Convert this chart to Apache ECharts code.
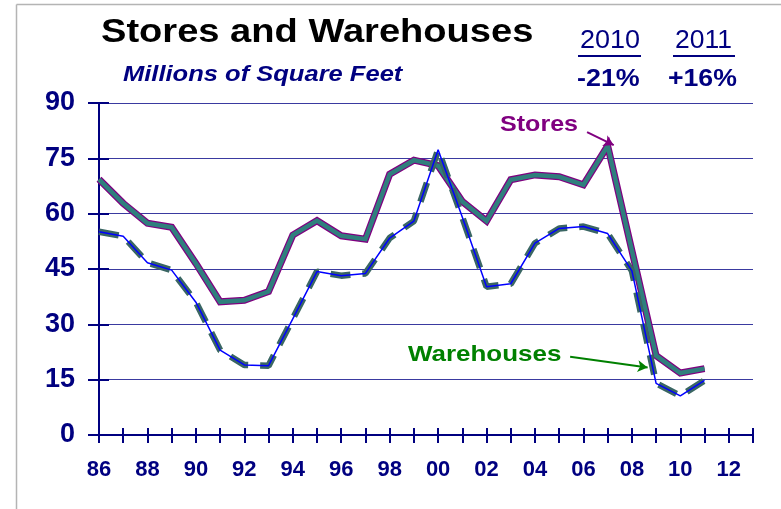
<!DOCTYPE html>
<html>
<head>
<meta charset="utf-8">
<script src="https://cdn.jsdelivr.net/npm/echarts@6/dist/echarts.min.js"></script>
<style>
html,body{margin:0;padding:0;background:#fff;}
#chart{width:781px;height:509px;}
</style>
</head>
<body>
<div id="chart"></div>
<script>
// ---- data ----
const years = [1986,1987,1988,1989,1990,1991,1992,1993,1994,1995,1996,1997,1998,1999,2000,2001,2002,2003,2004,2005,2006,2007,2008,2009,2010,2011];
const stores = [69.3,62.8,57.4,56.3,46.5,36.1,36.5,38.9,54.2,58.1,54.0,53.1,70.7,74.5,73.0,63.3,58.0,69.2,70.5,70.0,67.8,78.4,50.0,21.5,16.8,18.0];
const warehouses = [55.1,53.9,46.7,44.7,36.0,23.0,19.0,18.8,31.5,44.3,43.2,43.8,53.4,58.0,77.3,59.0,40.2,41.0,52.0,56.0,56.5,54.6,44.5,14.0,10.6,14.8];
const yTicks = [0,15,30,45,60,75,90];
const xLabelYears = [1986,1988,1990,1992,1994,1996,1998,2000,2002,2004,2006,2008,2010,2012];
const changeYears = ['2010','2011'];
const changeValues = ['-21%','+16%'];

const NAVY = '#000080';
const FONT = '"Liberation Sans", Arial, sans-serif';
const pair = (xs, ys) => xs.map((x, i) => [x, ys[i]]);

const chart = echarts.init(document.getElementById('chart'), null, {renderer: 'canvas'});

const xBase = {
  type: 'value', min: 1986, max: 2013, interval: 1, gridIndex: 0, position: 'bottom',
  splitLine: {show: false}
};
const yBase = {
  type: 'value', min: yTicks[0], max: yTicks[yTicks.length - 1], interval: 15, gridIndex: 0, position: 'left'
};

chart.setOption({
  animation: false,
  backgroundColor: '#fff',
  grid: {left: 99, right: 28, top: 103, bottom: 74, containLabel: false},
  xAxis: [
    Object.assign({}, xBase, {
      axisLine: {show: true, onZero: false, lineStyle: {color: NAVY, width: 2}},
      axisTick: {show: true, inside: false, length: 8, lineStyle: {color: NAVY, width: 2}},
      axisLabel: {
        show: true, margin: 24, color: NAVY, fontFamily: FONT, fontWeight: 'bold', fontSize: 22,
        formatter: v => xLabelYears.indexOf(v) >= 0 ? String(v).slice(2) : ''
      }
    }),
    Object.assign({}, xBase, {
      axisLine: {show: false},
      axisTick: {show: true, inside: true, length: 7, lineStyle: {color: NAVY, width: 2}},
      axisLabel: {show: false}
    })
  ],
  yAxis: [
    Object.assign({}, yBase, {
      axisLine: {show: true, onZero: false, lineStyle: {color: NAVY, width: 2}},
      axisTick: {show: true, inside: false, length: 11, lineStyle: {color: NAVY, width: 2}},
      axisLabel: {show: true, margin: 24, color: NAVY, fontFamily: FONT, fontWeight: 'bold', fontSize: 27},
      splitLine: {show: true, lineStyle: {color: '#3a3aa0', width: 1}}
    }),
    Object.assign({}, yBase, {
      axisLine: {show: false},
      axisTick: {show: true, inside: true, length: 10, lineStyle: {color: NAVY, width: 2}},
      axisLabel: {show: false},
      splitLine: {show: false}
    })
  ],
  series: [
    {
      name: 'Stores outline', type: 'line', xAxisIndex: 0, yAxisIndex: 0,
      data: pair(years, stores), symbol: 'none', z: 3,
      lineStyle: {color: '#800080', width: 7, join: 'miter'},
      markLine: {
        silent: true, symbol: ['none', 'arrow'], symbolSize: [9, 10],
        label: {show: false},
        lineStyle: {color: '#800080', width: 2, type: 'solid'},
        data: [[{coord: [2006.15, 82.1]}, {coord: [2007.25, 78.6]}]]
      }
    },
    {
      name: 'Stores', type: 'line', xAxisIndex: 0, yAxisIndex: 0,
      data: pair(years, stores), symbol: 'none', z: 4,
      lineStyle: {color: '#2f7f7d', width: 4.5, join: 'miter'}
    },
    {
      name: 'Warehouses shade', type: 'line', xAxisIndex: 0, yAxisIndex: 0,
      data: pair(years, warehouses), symbol: 'none', z: 5,
      lineStyle: {color: '#3a6663', width: 6.5, type: [20, 12]},
      markLine: {
        silent: true, symbol: ['none', 'arrow'], symbolSize: [9, 10],
        label: {show: false},
        lineStyle: {color: '#008000', width: 2, type: 'solid'},
        data: [[{coord: [2005.45, 21.2]}, {coord: [2008.65, 18.3]}]]
      }
    },
    {
      name: 'Warehouses', type: 'line', xAxisIndex: 0, yAxisIndex: 0,
      data: pair(years, warehouses), symbol: 'none', z: 6,
      lineStyle: {color: '#0000ff', width: 1.5}
    }
  ],
  graphic: [
    {type: 'line', shape: {x1: 16.5, y1: 4.5, x2: 16.5, y2: 509}, style: {stroke: '#b4b4b4', lineWidth: 1.5}},
    {type: 'line', shape: {x1: 16.5, y1: 4.5, x2: 781, y2: 4.5}, style: {stroke: '#b4b4b4', lineWidth: 1.5}},
    {type: 'text', x: 101, y: 33, scaleX: 1.12,
      style: {text: 'Stores and Warehouses', fill: '#000', font: 'bold 34px ' + FONT, textAlign: 'left', textVerticalAlign: 'middle'}},
    {type: 'text', x: 123, y: 75, scaleX: 1.16,
      style: {text: 'Millions of Square Feet', fill: NAVY, font: 'italic bold 22px ' + FONT, textAlign: 'left', textVerticalAlign: 'middle'}},
    {type: 'text', x: 580, y: 41, scaleX: 1.08,
      style: {text: changeYears[0], fill: NAVY, font: '25px ' + FONT, textAlign: 'left', textVerticalAlign: 'middle'}},
    {type: 'text', x: 675, y: 41, scaleX: 1.06,
      style: {text: changeYears[1], fill: NAVY, font: '25px ' + FONT, textAlign: 'left', textVerticalAlign: 'middle'}},
    {type: 'line', shape: {x1: 578, y1: 56, x2: 641, y2: 56}, style: {stroke: NAVY, lineWidth: 2}},
    {type: 'line', shape: {x1: 673, y1: 56, x2: 735, y2: 56}, style: {stroke: NAVY, lineWidth: 2}},
    {type: 'text', x: 577, y: 79, scaleX: 1.12,
      style: {text: changeValues[0], fill: NAVY, font: 'bold 24px ' + FONT, textAlign: 'left', textVerticalAlign: 'middle'}},
    {type: 'text', x: 668, y: 79, scaleX: 1.11,
      style: {text: changeValues[1], fill: NAVY, font: 'bold 24px ' + FONT, textAlign: 'left', textVerticalAlign: 'middle'}},
    {type: 'text', x: 500, y: 125, scaleX: 1.14,
      style: {text: 'Stores', fill: '#800080', font: 'bold 22px ' + FONT, textAlign: 'left', textVerticalAlign: 'middle'}},
    {type: 'text', x: 408, y: 355, scaleX: 1.18,
      style: {text: 'Warehouses', fill: '#008000', font: 'bold 22px ' + FONT, textAlign: 'left', textVerticalAlign: 'middle'}}
  ]
});
</script>
</body>
</html>
